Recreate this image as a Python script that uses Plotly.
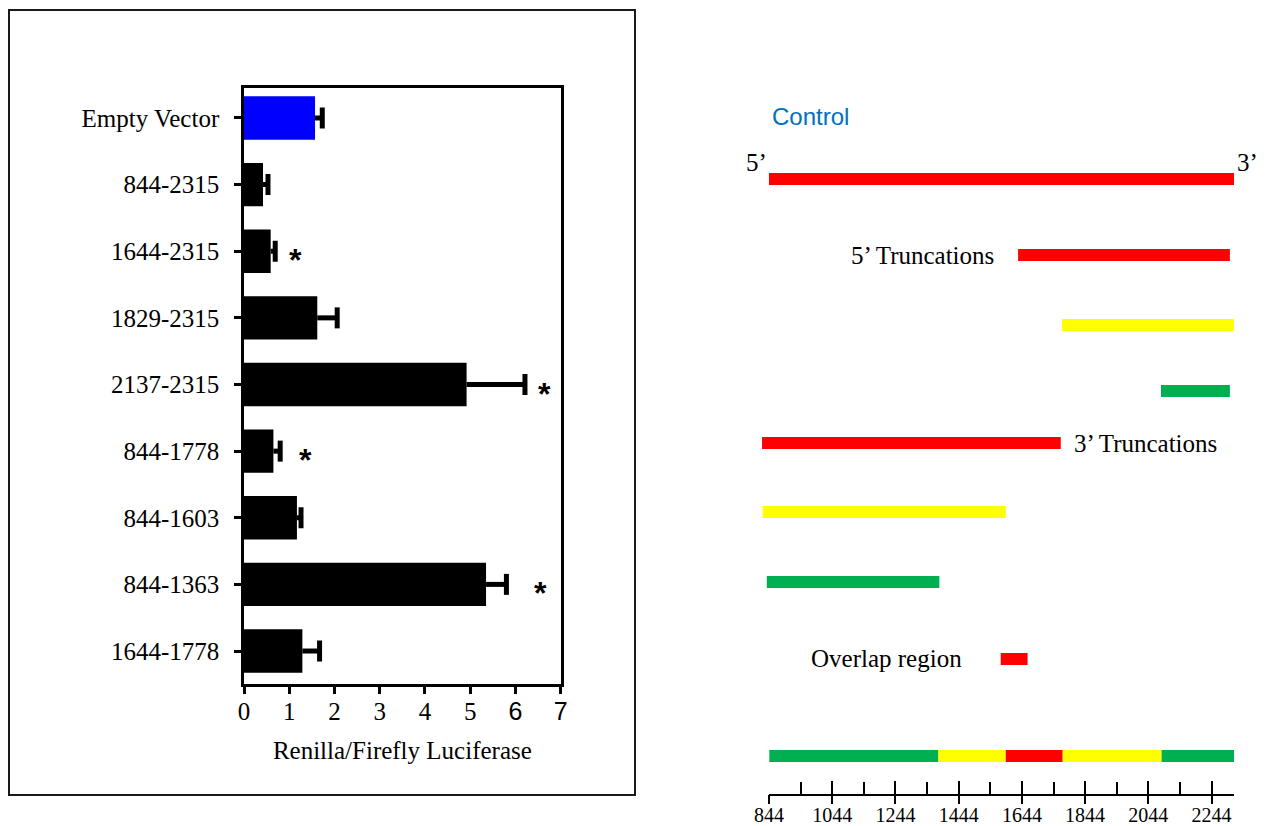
import plotly.graph_objects as go

W, H = 1269, 826

# ---------------- Left panel data ----------------
constructs = ["Empty Vector", "844-2315", "1644-2315", "1829-2315", "2137-2315",
              "844-1778", "844-1603", "844-1363", "1644-1778"]
ratio = [1.57, 0.42, 0.59, 1.62, 4.92, 0.65, 1.17, 5.35, 1.29]
ratio_err = [0.16, 0.11, 0.10, 0.44, 1.29, 0.15, 0.09, 0.45, 0.38]
star_x = [None, None, 1.13, None, 6.65, 1.37, None, 6.56, None]
x_tick_vals = [0, 1, 2, 3, 4, 5, 6, 7]
x_axis_title = "Renilla/Firefly Luciferase"

# ---------------- Right panel data ----------------
seg_row = [0, 1, 2, 3, 4, 5, 6, 7, 8, 8, 8, 8, 8]
seg_start = [844, 1632, 1771, 2084, 822, 824, 837, 1577, 845, 1380, 1593, 1773, 2086]
seg_end = [2315, 2302, 2315, 2302, 1767, 1593, 1383, 1662, 1380, 1593, 1773, 2086, 2315]
seg_kind = ["red", "red", "yellow", "green", "red", "yellow", "green", "red",
            "green", "yellow", "red", "yellow", "green"]
scale_major = [844, 1044, 1244, 1444, 1644, 1844, 2044, 2244]
scale_minor = [944, 1144, 1344, 1544, 1744, 1944, 2144, 2315]
scale_lo, scale_hi = 844, 2315

# ---------------- Styles / layout ----------------
SERIF = "Liberation Serif, Times New Roman, serif"
SANS = "Liberation Sans, Arial, sans-serif"
COLORS = {"red": "#FF0000", "yellow": "#FFFF00", "green": "#00B050"}
row_y = [179, 255, 325, 391, 443, 512, 582, 659, 756]   # row centres (px) of the diagram


def fx(px):
    return px / W


def fy(py):
    return 1 - py / H


fig = go.Figure()

# left bars
bar_colors = ["#0000FF"] + ["#000000"] * (len(constructs) - 1)
fig.add_trace(go.Bar(
    x=ratio, y=constructs, orientation="h", width=0.65,
    marker=dict(color=bar_colors, line=dict(width=0)),
    error_x=dict(type="data", symmetric=False, array=ratio_err,
                 arrayminus=[0] * len(ratio), color="black", thickness=5, width=0),
    xaxis="x", yaxis="y", showlegend=False, hoverinfo="x+y",
))
# error bar caps
fig.add_trace(go.Scatter(
    x=[v + e for v, e in zip(ratio, ratio_err)], y=constructs, mode="markers",
    marker=dict(symbol="line-ns", size=15, color="black", line=dict(width=5, color="black")),
    xaxis="x", yaxis="y", showlegend=False, hoverinfo="skip",
))

# right diagram bars
k = (1234 - 769) / (scale_hi - scale_lo)
x2_lo_px, x2_hi_px = 740, 1264
x2_range = [scale_lo + (x2_lo_px - 769) / k, scale_lo + (x2_hi_px - 769) / k]
fig.add_trace(go.Bar(
    x=[e - s for s, e in zip(seg_start, seg_end)], base=seg_start,
    y=[row_y[r] for r in seg_row], orientation="h", width=12,
    marker=dict(color=[COLORS[c] for c in seg_kind], line=dict(width=0)),
    xaxis="x2", yaxis="y2", showlegend=False, hoverinfo="skip",
))

# placeholder traces so the scale axes get drawn
for xa, ya in (("x3", "y3"), ("x4", "y4")):
    fig.add_trace(go.Scatter(x=[scale_lo, scale_hi], y=[None, None], mode="lines",
                             xaxis=xa, yaxis=ya, showlegend=False, hoverinfo="skip"))

x_ticktext = []
for v in x_tick_vals:
    if v >= 6:
        x_ticktext.append('<span style="font-family:Liberation Sans, Arial">%d</span>' % v)
    else:
        x_ticktext.append(str(v))

axis_y_pos = fy(794)
scale_dom = [fx(769), fx(1234)]

fig.update_layout(
    width=W, height=H, autosize=False, margin=dict(l=0, r=0, t=0, b=0, pad=0),
    paper_bgcolor="white", plot_bgcolor="rgba(0,0,0,0)",
    barmode="overlay", showlegend=False,
    font=dict(family=SERIF, size=25, color="black"),
    xaxis=dict(domain=[fx(244), fx(560.7)], range=[0, 7], tickmode="array",
               tickvals=x_tick_vals, ticktext=x_ticktext, ticks="outside", ticklen=7,
               tickwidth=2.5, tickcolor="black", showline=True, mirror=True,
               linewidth=2.5, linecolor="black", showgrid=False, zeroline=False,
               tickfont=dict(family=SERIF, size=25), anchor="y", automargin=False,
               ticklabelstandoff=-4,
               title=dict(text=x_axis_title, font=dict(family=SERIF, size=25), standoff=18)),
    yaxis=dict(domain=[fy(684), fy(88)], type="category", categoryorder="array",
               categoryarray=constructs, range=[8.495, -0.45], ticks="outside",
               ticklen=7, tickwidth=2.5, tickcolor="black", showline=True, mirror=True,
               linewidth=2.5, linecolor="black", showgrid=False, zeroline=False,
               tickfont=dict(family=SERIF, size=25), ticklabelstandoff=10, anchor="x",
               automargin=False),
    xaxis2=dict(domain=[fx(x2_lo_px), fx(x2_hi_px)], range=x2_range, visible=False,
                anchor="y2", automargin=False),
    yaxis2=dict(domain=[0, 1], range=[H, 0], visible=False, anchor="x2", automargin=False),
    xaxis3=dict(domain=scale_dom, range=[scale_lo, scale_hi], anchor="y3",
                showline=True, linewidth=1.5, linecolor="black", showgrid=False,
                zeroline=False, tickmode="array", tickvals=scale_major, ticks="inside",
                ticklen=13, tickwidth=1.5, tickcolor="black", showticklabels=False,
                automargin=False,
                minor=dict(tickmode="array", tickvals=scale_minor, ticks="inside",
                           ticklen=12, tickwidth=1.5, tickcolor="black", showgrid=False)),
    yaxis3=dict(domain=[axis_y_pos, axis_y_pos + 0.02], range=[0, 1], visible=False,
                anchor="x3", automargin=False),
    xaxis4=dict(domain=scale_dom, range=[scale_lo, scale_hi], anchor="y4",
                showline=False, showgrid=False, zeroline=False, tickmode="array",
                tickvals=scale_major, ticktext=[str(v) for v in scale_major],
                ticks="outside", ticklen=9, tickwidth=1.5, tickcolor="black",
                tickfont=dict(family=SERIF, size=20), ticklabelstandoff=-6,
                automargin=False),
    yaxis4=dict(domain=[axis_y_pos, axis_y_pos + 0.02], range=[0, 1], visible=False,
                anchor="x4", automargin=False),
)

annotations = []
for c, sx in zip(constructs, star_x):
    if sx is not None:
        annotations.append(dict(x=sx, y=c, xref="x", yref="y", text="<b>*</b>",
                                showarrow=False, font=dict(family=SANS, size=32),
                                xanchor="center", yanchor="middle", yshift=-9))

texts = [
    ("Control", 770, 116, "left", SANS, 24, "#0070C0"),
    ("5’", 769, 163, "right", SERIF, 25, "black"),
    ("3’", 1235, 163, "left", SERIF, 25, "black"),
    ("5’ Truncations", 996, 255, "right", SERIF, 25, "black"),
    ("3’ Truncations", 1072, 443, "left", SERIF, 25, "black"),
    ("Overlap region", 809, 658, "left", SERIF, 25, "black"),
]
for t, x, y, anc, fam, sz, col in texts:
    annotations.append(dict(x=fx(x), y=fy(y), xref="paper", yref="paper", text=t,
                            showarrow=False, xanchor=anc, yanchor="middle",
                            font=dict(family=fam, size=sz, color=col)))
fig.update_layout(annotations=annotations)

# outer frame around the bar chart
fig.add_shape(type="rect", xref="paper", yref="paper", x0=fx(9), x1=fx(635),
              y0=fy(795), y1=fy(10), line=dict(color="#1a1a1a", width=2))

fig.write_html("out.html", config={"displayModeBar": False},
               post_script="document.body.style.margin='0px';")
